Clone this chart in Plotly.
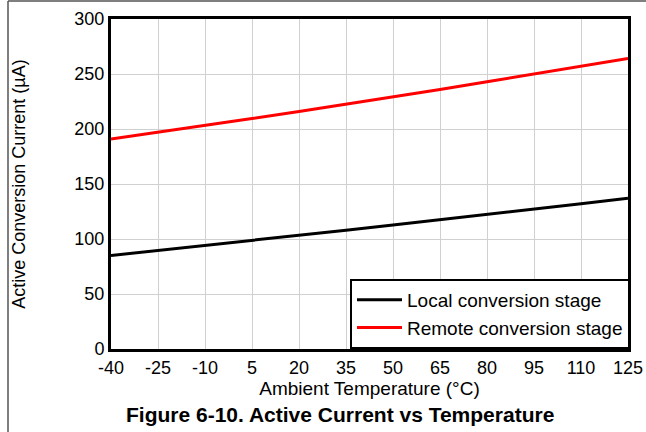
import plotly.graph_objects as go

temps = [-40, -25, -10, 5, 20, 35, 50, 65, 80, 95, 110, 125]
local_ua = [85, 89.5, 94, 98.7, 103.3, 108, 112.8, 117.5, 122.3, 127.2, 132, 137]
remote_ua = [191, 197, 203, 209.5, 216, 222.5, 229, 236, 243, 250, 257, 264]
x_ticks = [-40, -25, -10, 5, 20, 35, 50, 65, 80, 95, 110, 125]
y_ticks = [0, 50, 100, 150, 200, 250, 300]

W, H = 646, 432
L, R, T, B = 111, 18, 19, 83
pw, ph = W - L - R, H - T - B

fig = go.Figure()
fig.add_trace(go.Scatter(x=temps, y=local_ua, mode="lines", name="Local conversion stage",
                         line=dict(color="black", width=3)))
fig.add_trace(go.Scatter(x=temps, y=remote_ua, mode="lines", name="Remote conversion stage",
                         line=dict(color="#ff0000", width=3)))

font = dict(family="Liberation Sans, Arial, sans-serif", color="black")
FS = 18

fig.update_layout(
    width=W, height=H,
    margin=dict(l=L, r=R, t=T, b=B, autoexpand=False),
    paper_bgcolor="white", plot_bgcolor="white",
    font=dict(**font, size=FS),
    xaxis=dict(range=[-40, 125], tickvals=x_ticks, ticktext=[str(v) for v in x_ticks],
               showgrid=True, gridcolor="#d0d0d0", gridwidth=1,
               showline=True, linecolor="black", linewidth=3, mirror=True,
               ticks="", zeroline=False, automargin=False,
               title=dict(text="Ambient Temperature (°C)", font=dict(size=19), standoff=0),
               tickfont=dict(size=FS)),
    yaxis=dict(range=[0, 300], tickvals=y_ticks,
               showgrid=True, gridcolor="#d0d0d0", gridwidth=1,
               showline=True, linecolor="black", linewidth=3, mirror=True,
               ticks="", zeroline=False, automargin=False,
               title=dict(text="Active Conversion Current (µA)", font=dict(size=FS), standoff=45),
               tickfont=dict(size=FS)),
    legend=dict(x=(350 - L) / pw, y=0, xanchor="left", yanchor="bottom",
                bgcolor="white", bordercolor="black", borderwidth=2,
                font=dict(size=19), tracegroupgap=0, itemwidth=45),
    showlegend=True,
)

fig.add_annotation(text="<b>Figure 6-10. Active Current vs Temperature</b>",
                   xref="paper", yref="paper", x=(340 - L) / pw, y=(ph + T - 414) / ph,
                   xanchor="center", yanchor="middle", showarrow=False,
                   font=dict(size=21))

# outer frame lines (left and top)
fig.add_shape(type="line", xref="paper", yref="paper",
              x0=(8 - L) / pw, x1=(8 - L) / pw, y0=(ph + T - H) / ph, y1=(ph + T - 1) / ph,
              line=dict(color="#555555", width=1.5))
fig.add_shape(type="line", xref="paper", yref="paper",
              x0=(8 - L) / pw, x1=(W - L) / pw, y0=(ph + T - 1) / ph, y1=(ph + T - 1) / ph,
              line=dict(color="#555555", width=1.5))

fig.write_html("out.html", config={"displayModeBar": False},
               post_script="document.body.style.margin='0';")
